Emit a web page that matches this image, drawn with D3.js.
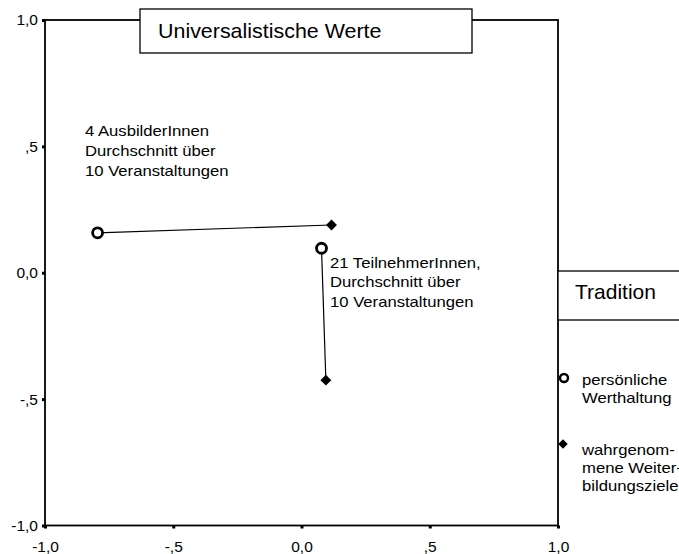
<!DOCTYPE html>
<html><head><meta charset="utf-8">
<script src="https://cdn.jsdelivr.net/npm/d3@7"></script>
<style>body{margin:0;background:#fff}svg{display:block}svg text{font-family:"Liberation Sans",Arial,sans-serif;fill:#000}</style>
</head><body><svg id="c" width="679" height="554"></svg>
<script>
const groups = ["4 AusbilderInnen", "21 TeilnehmerInnen"];
const personalX = [-0.795, 0.078];
const personalY = [0.158, 0.097];
const perceivedX = [0.117, 0.095];
const perceivedY = [0.189, -0.425];
const ticks = [-1, -0.5, 0, 0.5, 1];
const tickLabels = ["-1,0", "-,5", "0,0", ",5", "1,0"];
const title = "Universalistische Werte";
const xTitle = "Tradition";
const annotations = [
  ["4 AusbilderInnen", "Durchschnitt über", "10 Veranstaltungen"],
  ["21 TeilnehmerInnen,", "Durchschnitt über", "10 Veranstaltungen"]
];
const legendLabels = [["persönliche", "Werthaltung"], ["wahrgenom-", "mene Weiter-", "bildungsziele"]];

const svg = d3.select("#c");
const x = d3.scaleLinear().domain([-1, 1]).range([45, 558]);
const y = d3.scaleLinear().domain([-1, 1]).range([525.5, 20]);
const fmt = d => tickLabels[ticks.indexOf(d)];

function stretch(sel, k) {
  sel.each(function () {
    const L = this.getComputedTextLength();
    d3.select(this).attr("textLength", L * k).attr("lengthAdjust", "spacingAndGlyphs");
  });
}

// frame
svg.append("rect").attr("x", x(-1)).attr("y", y(1)).attr("width", x(1) - x(-1)).attr("height", y(-1) - y(1))
  .attr("fill", "none").attr("stroke", "#000").attr("stroke-width", 1.8);

const ya = svg.append("g").attr("transform", `translate(${x(-1)},0)`)
  .call(d3.axisLeft(y).tickValues(ticks).tickFormat(fmt).tickSize(3).tickPadding(4));
const xa = svg.append("g").attr("transform", `translate(0,${y(-1)})`)
  .call(d3.axisBottom(x).tickValues(ticks).tickFormat(fmt).tickSize(3).tickPadding(12));
[ya, xa].forEach(g => {
  g.select(".domain").remove();
  g.selectAll(".tick line").attr("stroke", "#000").attr("stroke-width", 3);
  g.selectAll(".tick text").attr("font-size", 15.5).attr("fill", "#000");
});

// title box
svg.append("rect").attr("x", 140).attr("y", 9).attr("width", 332).attr("height", 44)
  .attr("fill", "#fff").attr("stroke", "#000").attr("stroke-width", 1.3);
svg.append("text").attr("x", 158).attr("y", 38).attr("font-size", 21).text(title).call(stretch, 1.02);

// x title box
svg.append("rect").attr("x", x(1)).attr("y", 271).attr("width", 140).attr("height", 49)
  .attr("fill", "#fff").attr("stroke", "#000").attr("stroke-width", 1.3);
svg.append("text").attr("x", 575).attr("y", 299).attr("font-size", 21).text(xTitle);

// connecting lines
groups.forEach((g, i) => {
  svg.append("line")
    .attr("x1", x(personalX[i])).attr("y1", y(personalY[i]))
    .attr("x2", x(perceivedX[i])).attr("y2", y(perceivedY[i]))
    .attr("stroke", "#000").attr("stroke-width", 1.2);
});

const diamond = d3.symbol().type(d3.symbolDiamond2).size(75);
groups.forEach((g, i) => {
  svg.append("path").attr("d", diamond()).attr("transform", `translate(${x(perceivedX[i])},${y(perceivedY[i])})`).attr("fill", "#000");
  svg.append("circle").attr("cx", x(personalX[i])).attr("cy", y(personalY[i])).attr("r", 5)
    .attr("fill", "#fff").attr("stroke", "#000").attr("stroke-width", 2.8);
});

// annotations
const annPos = [[85, 136, 20], [330, 268, 19.3]];
annotations.forEach((lines, i) => {
  lines.forEach((l, j) => svg.append("text").attr("font-size", 15)
    .attr("x", annPos[i][0]).attr("y", annPos[i][1] + j * annPos[i][2]).text(l).call(stretch, 1.11));
});

// legend
svg.append("circle").attr("cx", 564).attr("cy", 378).attr("r", 4).attr("fill", "#fff").attr("stroke", "#000").attr("stroke-width", 2.5);
svg.append("path").attr("d", d3.symbol().type(d3.symbolDiamond2).size(58)()).attr("transform", "translate(563,444)").attr("fill", "#000");
const legY = [385, 455];
legendLabels.forEach((lines, i) => {
  lines.forEach((l, j) => svg.append("text").attr("font-size", 14.5)
    .attr("x", 582).attr("y", legY[i] + j * 18).text(l).call(stretch, 1.15));
});
</script></body></html>
